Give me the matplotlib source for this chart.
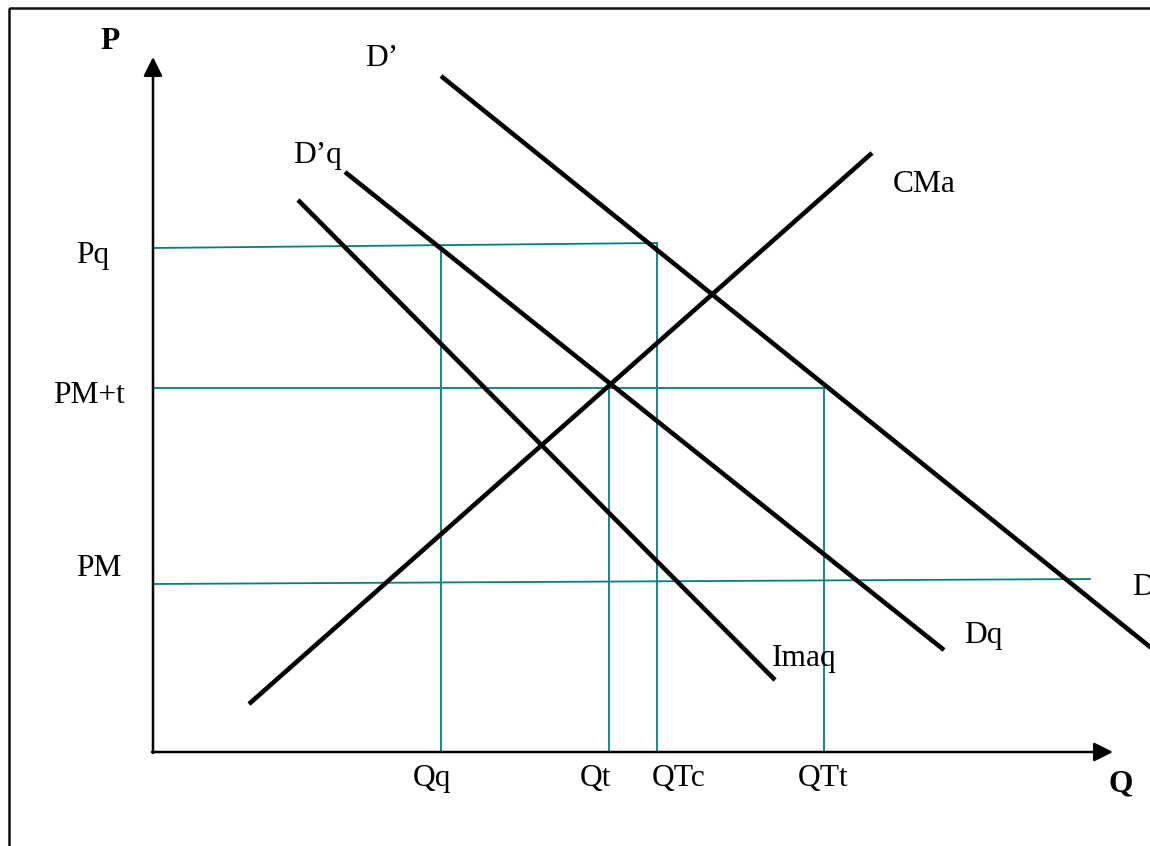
import matplotlib.pyplot as plt
from matplotlib.patches import Rectangle

# Diagram drawn in pixel-like units (x to the right, y downward)
origin = (153, 752)
x_axis_end = 1113
y_axis_end = 57

# Thick black curves: name -> (x0, y0, x1, y1)
curve_names = ["D'", "D'q", "Imaq", "CMa"]
curve_x0 = [441, 345, 298, 249]
curve_y0 = [76, 172, 200, 704]
curve_x1 = [1165, 944, 775, 872]
curve_y1 = [659, 650, 680, 153]

# Teal guide lines, horizontal (price levels)
h_x0 = [153, 153, 153]
h_y0 = [248, 388, 584]
h_x1 = [657, 824, 1090]
h_y1 = [243, 388, 579]

# Teal guide lines, vertical (quantities)
v_x = [441, 609, 657, 824]
v_top = [246, 388, 243, 388]

# Text labels: (text, x_left, baseline)
price_labels = ["Pq", "PM+t", "PM"]
price_lx = [76, 53, 76]
price_by = [263, 403, 576]

qty_labels = ["Qq", "Qt", "QTc", "QTt"]
qty_lx = [413, 580, 652, 798]
qty_by = [786, 786, 786, 786]

curve_labels = ["D\u2019", "D\u2019q", "CMa", "D", "Dq", "Imaq"]
curve_lx = [365, 293, 893, 1132, 964, 772]
curve_by = [66, 163, 192, 595, 643, 666]

teal = "#008080"
font = "Liberation Serif"
fs = 22.7

fig = plt.figure(figsize=(11.5, 8.46), dpi=100)
ax = fig.add_axes([0, 0, 1, 1])
ax.set_xlim(0, 1150)
ax.set_ylim(846, 0)
ax.axis("off")

# outer frame (only top and left edges visible)
ax.add_patch(Rectangle((8.5, 8.5), 1200, 900, fill=False, lw=1.8, ec="#111111"))

# axes with arrow heads
arrow = dict(arrowstyle="-|>,head_length=0.46,head_width=0.23",
             lw=1.8, color="black", mutation_scale=25, shrinkA=0, shrinkB=0)
ax.annotate("", xy=(origin[0], y_axis_end), xytext=(origin[0], origin[1] + 1),
            arrowprops=arrow)
ax.annotate("", xy=(x_axis_end, origin[1]), xytext=(origin[0] - 1, origin[1]),
            arrowprops=arrow)

# guide lines
for x0, y0, x1, y1 in zip(h_x0, h_y0, h_x1, h_y1):
    ax.plot([x0, x1], [y0, y1], color=teal, lw=1.3)
for x, top in zip(v_x, v_top):
    ax.plot([x, x], [top, origin[1]], color=teal, lw=1.3)

# curves
for x0, y0, x1, y1 in zip(curve_x0, curve_y0, curve_x1, curve_y1):
    ax.plot([x0, x1], [y0, y1], color="black", lw=3.3, solid_capstyle="butt")

# labels
for txt, x, y in zip(price_labels + qty_labels + curve_labels,
                     price_lx + qty_lx + curve_lx,
                     price_by + qty_by + curve_by):
    ax.text(x, y, txt, family=font, fontsize=fs, ha="left", va="baseline")

ax.text(100, 49, "P", family=font, fontsize=fs, fontweight="bold", ha="left", va="baseline")
ax.text(1108, 791, "Q", family=font, fontsize=fs, fontweight="bold", ha="left", va="baseline")

fig.savefig("out.png", dpi=100)
